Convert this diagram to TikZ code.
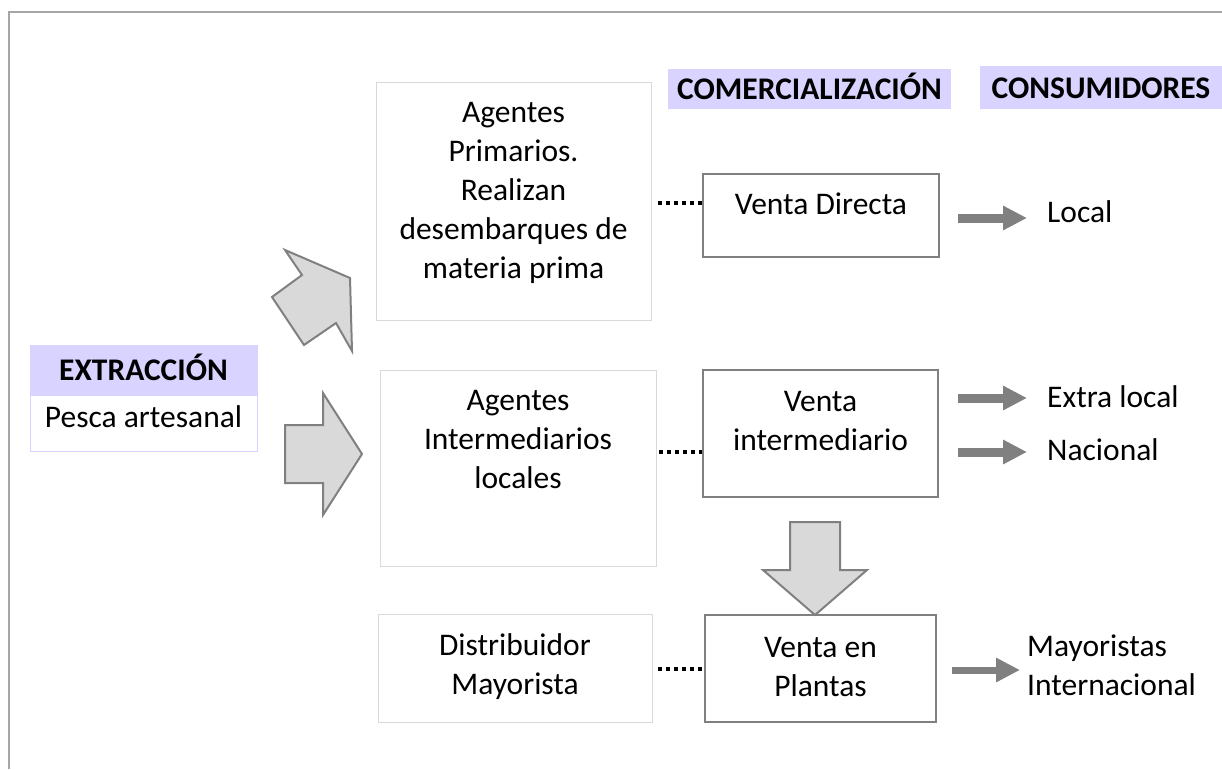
\documentclass[tikz,border=0pt]{standalone}
\usepackage{fontspec}
\setmainfont{Carlito}
\usetikzlibrary{arrows.meta,calc}
\definecolor{lav}{RGB}{217,211,255}
\definecolor{lightb}{RGB}{217,217,217}
\definecolor{midg}{RGB}{128,128,128}
\definecolor{frameg}{RGB}{166,166,166}
\definecolor{bigfill}{RGB}{217,217,217}
\begin{document}
\begin{tikzpicture}[x=1pt,y=-1pt,
 lbox/.style={draw=lightb, line width=1pt, inner sep=0pt},
 vbox/.style={draw=midg, line width=1.3pt, inner sep=0pt},
 hbox/.style={fill=lav, inner sep=0pt},
 txt/.style={font=\fontsize{31.5}{39}\selectfont, align=center, inner sep=0pt, anchor=base},
 htxt/.style={font=\fontsize{31.5}{39}\selectfont\bfseries, inner sep=0pt, anchor=base},
 bigarrow/.style={fill=bigfill, draw=midg, line width=2pt, line join=miter},
 sarrow/.style={draw=midg, line width=9pt, -{Triangle[length=24pt,width=23pt]}},
 dotline/.style={line width=4pt, dash pattern=on 4pt off 4pt}
]
\useasboundingbox (0,0) rectangle (1222,769);
% frame
\draw[frameg, line width=2.5pt] (9,769) -- (9,12) -- (1230,12);

% headers
\node[hbox, minimum width=283pt, minimum height=40pt] (hcom) at (809.5,89) {};
\node[htxt] (tcom) at (809.5,99) {COMERCIALIZACIÓN};
\node[hbox, minimum width=242pt, minimum height=43pt] (hcon) at (1101,87.5) {};
\node[htxt] (tcon) at (1101,98) {CONSUMIDORES};

% extraction
\node[hbox, draw=lav, line width=1pt, minimum width=227pt, minimum height=50pt] (exh) at (143.5,370) {};
\node[draw=lav, line width=1pt, inner sep=0pt, minimum width=227pt, minimum height=56pt] (exb) at (143.5,423) {};
\node[htxt] (tex) at (143.5,380) {EXTRACCIÓN};
\node[txt] (tpe) at (143.5,427) {Pesca artesanal};

% agent boxes
\node[lbox, minimum width=275pt, minimum height=238pt] (ap) at (513.5,201) {};
\node[txt] (tap) at (513.5,278) {Agentes\\Primarios.\\Realizan\\desembarques de\\materia prima};
\node[lbox, minimum width=276pt, minimum height=196pt] (ai) at (518,468) {};
\node[txt] (tai) at (518,488) {Agentes\\Intermediarios\\locales};
\node[lbox, minimum width=274pt, minimum height=108pt] (dm) at (515,668) {};
\node[txt] (tdm) at (515,694) {Distribuidor\\Mayorista};

% venta boxes
\node[vbox, minimum width=236pt, minimum height=83pt] (vd) at (821,215.5) {};
\node[txt] (tvd) at (821,214) {Venta Directa};
\node[vbox, minimum width=235pt, minimum height=127pt] (vi) at (820.5,433.5) {};
\node[txt] (tvi) at (820.5,450) {Venta\\intermediario};
\node[vbox, minimum width=231pt, minimum height=107pt] (vp) at (820.5,668.5) {};
\node[txt] (tvp) at (820.5,696) {Venta en\\Plantas};

% consumer labels
\node[txt, anchor=base west] (loc) at (1047,222) {Local};
\node[txt, anchor=base west] (exl) at (1047,407) {Extra local};
\node[txt, anchor=base west] (nac) at (1047,460) {Nacional};
\node[txt, anchor=base west, align=left] (may) at (1027,695) {Mayoristas\\Internacional};

% dotted connectors
\coordinate (vdl) at ([yshift=12.5pt]vd.west);
\draw[dotline] ([xshift=6pt]ap.east |- vdl) -- (vdl);
\coordinate (vil) at ([yshift=-18.5pt]vi.west);
\draw[dotline] ([xshift=2pt]ai.east |- vil) -- (vil);
\draw[dotline] ([xshift=5pt]dm.east |- vp.west) -- (vp.west);

% small arrows
\coordinate (a1s) at (958,218); \coordinate (a1e) at (1027,218);
\coordinate (a2s) at (958,398); \coordinate (a2e) at (1027,398);
\coordinate (a3s) at (958,452); \coordinate (a3e) at (1027,452);
\coordinate (a4s) at (952,670); \coordinate (a4e) at (1020,670);
\draw[sarrow] (a1s) -- (a1e);
\draw[sarrow] (a2s) -- (a2e);
\draw[sarrow] (a3s) -- (a3e);
\draw[sarrow, line width=7pt] (a4s) -- (a4e);

% big arrows
\draw[bigarrow] (285,250) -- (350,278) -- (352,351) -- (336,323) -- (304,345) -- (272,297) -- (302,275) -- cycle;
\draw[bigarrow] (285,425) -- (323,425) -- (323,393) -- (362,454) -- (323,515) -- (323,483) -- (285,483) -- cycle;
\draw[bigarrow] (790,522) -- (840,522) -- (840,570) -- (867,570) -- (815,615) -- (763,570) -- (790,570) -- cycle;
\end{tikzpicture}
\end{document}
